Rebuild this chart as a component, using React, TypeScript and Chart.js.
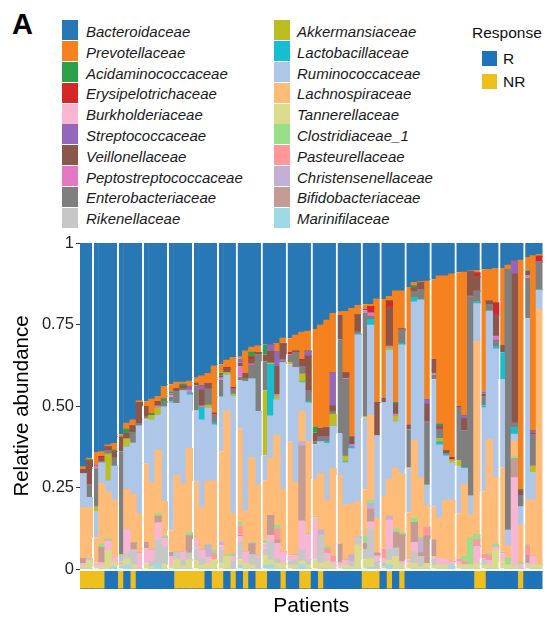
import React, { useEffect, useRef } from 'react';
import { Chart, registerables } from 'chart.js';

Chart.register(...registerables);

const FONT = "'Liberation Sans', Arial, Helvetica, sans-serif";

// ---------- categories ----------
const patients = [
  'P1','P2','P3','P4','P5','P6','P7','P8','P9','P10',
  'P11','P12','P13','P14','P15','P16','P17','P18','P19','P20',
  'P21','P22','P23','P24','P25','P26','P27','P28','P29','P30',
  'P31','P32','P33','P34','P35','P36','P37','P38','P39','P40',
  'P41','P42','P43','P44','P45','P46','P47','P48','P49','P50',
  'P51','P52','P53','P54','P55','P56','P57','P58','P59','P60',
  'P61','P62','P63','P64','P65','P66','P67','P68','P69','P70',
  'P71','P72','P73','P74',
];

const response = [
  'NR','NR','NR','NR','R','R','NR','R','NR','R',
  'R','R','R','R','R','NR','NR','NR','NR','NR',
  'R','NR','NR','R','NR','R','NR','R','NR','NR',
  'R','R','NR','R','R','NR','NR','R','NR','R',
  'R','R','R','R','R','NR','NR','NR','R','NR',
  'R','NR','R','R','R','R','R','R','R','R',
  'R','R','R','NR','NR','R','R','R','R','R',
  'NR','R','R','R',
];

const yTickValues = [0, 0.25, 0.5, 0.75, 1];
const yTickLabels = ['0', '0.25', '0.50', '0.75', '1'];

// bars that show the thin white separator on their left edge
const separatorBefore = [2, 6, 10, 14, 18, 22, 25, 29, 33, 37, 41, 45, 48, 52, 56, 60, 64, 67, 71];

// ---------- series (relative abundance) ----------
const bacteroidaceae = [
  .686,.660,.641,.640,.620,.615,.587,.553,.543,.485,
  .486,.479,.471,.440,.434,.427,.427,.424,.413,.408,
  .400,.377,.373,.360,.351,.349,.331,.320,.316,.311,
  .312,.308,.292,.292,.283,.274,.271,.264,.252,.237,
  .216,.211,.210,.201,.192,.188,.189,.172,.172,.164,
  .147,.147,.135,.121,.119,.117,.112,.101,.101,.095,
  .090,.090,.086,.084,.081,.081,.078,.077,.068,.056,
  .053,.043,.039,.035,
];
const prevotellaceae = [
  .009,.005,.040,.015,.006,.021,.006,.018,.018,.004,
  .014,.044,.015,.038,.021,.020,.006,.017,.014,.030,
  .032,.145,.025,.022,.092,.006,.069,.015,.020,0,
  0,.025,.018,.042,.049,.083,.061,.298,.317,.330,
  .181,.010,.189,.395,.029,.013,.006,.317,.302,.012,
  .342,.117,.421,.010,.003,.364,.243,.455,.537,.563,
  .410,.441,.002,.008,.374,.098,.106,.236,.013,0,
  .703,.038,.538,.006,
];
const acidaminococcaceae = [
  0,.003,0,0,0,.004,0,.013,0,0,
  0,.006,0,.008,.007,0,.006,0,0,0,
  0,0,.008,0,0,0,0,.015,0,.031,
  0,0,0,0,0,0,0,.020,0,0,
  0,0,0,0,0,0,0,0,0,.003,
  .005,0,0,.008,0,0,0,.005,0,0,
  0,0,0,0,0,0,0,0,0,0,
  .005,.004,0,0,
];
const erysipelotrichaceae = [
  0,0,0,.004,0,0,0,0,0,0,
  0,0,0,0,0,0,0,0,0,0,
  0,.005,0,.004,.006,0,0,.009,0,0,
  0,0,0,.007,0,.006,0,0,0,0,
  0,0,0,0,0,0,.020,0,0,.018,
  0,.003,0,0,0,0,0,0,0,.008,
  0,0,0,.012,0,0,.038,0,0,0,
  0,0,0,.017,
];
const burkholderiaceae = [
  .008,0,.013,.010,.030,.015,0,.074,0,.048,
  .046,.036,.053,.026,.026,0,.026,0,.028,.026,
  .020,0,.015,0,.017,.017,.036,0,.008,.015,
  .020,.046,.036,.015,.015,.089,.079,.130,0,.026,
  .010,.012,.015,0,0,0,.021,.017,.010,.090,
  0,.010,.012,.028,0,0,.008,.020,.017,.013,
  .010,0,0,.053,0,.015,.010,.026,0,.268,
  .014,.010,.028,0,
];
const streptococcaceae = [
  0,0,.005,0,0,0,0,0,0,0,
  0,0,0,0,.006,0,0,.010,0,.013,
  0,0,0,0,0,.012,0,0,0,0,
  .021,.046,0,0,0,0,.015,0,0,0,
  .103,0,0,0,0,0,0,0,0,0,
  0,0,0,0,0,.014,0,.003,0,0,
  0,.008,0,0,.007,0,0,0,0,.039,
  0,0,.007,0,
];
const veillonellaceae = [
  .013,.074,0,.013,.012,.020,.046,.017,.020,.066,
  .031,0,.014,0,0,.009,.010,0,.010,.049,
  .017,0,.007,.012,0,.012,.017,.012,.007,.021,
  .036,.086,.049,0,.005,.017,.107,.028,.026,.028,
  .017,.074,.017,.022,.053,.005,0,.102,.015,.120,
  .031,0,.015,.010,.022,.054,.044,.010,.010,0,
  .003,.036,.075,.044,.010,.010,.064,.022,0,.458,
  .015,.013,.005,0,
];
const peptostreptococcaceae = [
  0,.003,.005,.003,0,0,0,0,0,0,
  0,0,.005,0,.004,0,0,.010,0,.005,
  0,0,.006,0,0,.031,0,.003,0,0,
  0,.006,.003,0,0,0,0,0,0,0,
  0,0,.003,.006,0,.007,.010,0,0,.004,
  .006,0,0,0,0,.002,.004,0,0,0,
  0,.002,.002,0,0,0,.012,0,0,0,
  0,.008,0,0,
];
const enterobacteriaceae = [
  0,.036,.118,0,.009,.025,.316,0,.033,.006,
  .006,0,0,.017,.014,.036,.004,0,.077,0,
  .049,.026,.051,0,.015,.010,.008,.043,.174,.089,
  0,0,.005,.024,.045,.022,.033,.007,.015,.015,
  .008,.289,.235,0,.006,.318,.010,0,0,0,
  0,.041,.118,.019,.031,.192,.015,.026,0,0,
  .164,.112,.611,.033,.026,.020,.020,0,.800,.014,
  .033,.125,.095,.087,
];
const rikenellaceae = [
  0,.006,0,0,0,0,0,.015,.046,0,
  0,.015,.072,.053,0,.022,.018,.020,.039,.020,
  0,0,.041,0,.022,.053,0,.031,.033,.020,
  .056,.015,0,.015,.015,.034,.015,0,.087,0,
  0,0,0,.015,.024,.031,.092,.023,.015,.033,
  .026,0,0,.036,.031,0,.022,0,0,0,
  0,0,0,0,.020,0,0,0,0,0,
  0,0,0,0,
];
const akkermansiaceae = [
  0,0,.013,0,.082,0,.004,.025,0,0,
  .004,.014,.024,0,0,0,0,0,0,0,
  .008,0,0,.007,.006,0,0,0,0,.199,
  .004,.010,0,.007,0,.024,0,0,0,0,
  .037,0,.017,0,0,.004,0,0,0,.008,
  .017,0,.002,0,0,0,0,.010,0,.008,
  .017,0,0,0,0,0,0,0,0,0,
  0,0,.020,0,
];
const lactobacillaceae = [
  0,0,0,0,0,0,0,0,0,0,
  0,0,0,0,.004,0,0,.005,0,.038,
  0,.005,.004,0,0,0,0,0,0,0,
  .158,0,0,0,0,.003,.004,0,0,.005,
  0,0,.003,.007,.002,0,.017,0,0,0,
  0,.005,0,.013,0,0,0,.010,.005,0,
  0,.003,0,.005,.007,0,.007,.082,0,.020,
  0,0,0,0,
];
const ruminococcaceae = [
  .104,.030,.081,.063,.034,.104,.019,.130,.157,.270,
  .136,.194,.107,.291,.391,.220,.287,.164,.217,.269,
  .225,.172,.165,.110,.360,.148,.399,.241,.225,.077,
  .129,.109,.388,.238,.351,.087,.119,.107,.097,.174,
  .130,.128,.130,.169,.511,.221,.276,.254,.287,.396,
  .143,.396,.136,.424,.545,.064,.390,.223,.136,.115,
  .146,.048,.058,.116,.257,.394,.394,.271,.048,.021,
  .056,.554,.084,.059,
];
const lachnospiraceae = [
  .156,.158,.077,.186,.145,.176,.012,.123,.149,.121,
  .240,.205,.194,.105,.066,.235,.207,.259,.177,.130,
  .193,.212,.276,.442,.123,.288,.123,.261,.217,.182,
  .176,.276,.192,.348,.225,.094,.281,.113,.174,.143,
  .269,.210,.169,.158,.109,.143,.261,.107,.161,.113,
  .187,.180,.144,.240,.183,.065,.101,.125,.182,.189,
  .138,.221,.070,.592,.191,.350,.205,.259,.037,.048,
  .116,.138,.172,.784,
];
const tannerellaceae = [
  .009,.025,.007,.009,.056,.013,0,.020,.012,0,
  .017,.007,0,.015,.012,.028,.009,.028,.025,.012,
  .017,.028,.017,.038,0,.018,.017,.012,0,.031,
  .015,.017,.017,.012,.012,.012,.012,.028,.017,.022,
  .012,.007,.012,.007,.074,.025,.026,0,.007,.015,
  .038,.012,.017,.017,.007,.017,.010,.012,.012,0,
  .012,.012,.012,.017,.012,.012,.058,.020,.012,.012,
  0,.007,.012,.012,
];
const clostridiaceae1 = [
  0,0,0,.010,.006,0,0,0,0,0,
  0,0,.008,.007,0,.003,0,.009,0,0,
  .005,.010,0,.005,.008,.010,0,.004,0,.012,
  0,.012,0,0,0,0,.003,.005,0,.005,
  0,0,0,0,0,.020,.010,0,0,0,
  .010,.007,0,.012,.006,0,0,0,0,0,
  0,.017,.084,.016,0,.005,.008,0,.022,.005,
  .005,.003,0,0,
];
const pasteurellaceae = [
  0,0,0,0,0,0,0,0,0,0,
  0,0,0,0,0,0,0,0,0,0,
  0,.020,0,0,0,.028,0,0,0,0,
  0,.034,0,0,0,0,0,0,0,.015,
  .017,0,0,0,0,0,0,0,.031,0,
  0,0,0,0,0,.027,0,0,0,0,
  .010,.010,0,.020,.015,.015,0,0,0,0,
  0,.031,0,0,
];
const christensenellaceae = [
  0,0,0,0,0,0,0,0,0,0,
  0,0,0,0,0,0,0,0,0,0,
  .034,0,.012,0,0,0,0,0,0,0,
  0,0,0,0,0,.013,0,0,.015,0,
  0,0,0,.020,0,0,.018,0,0,.012,
  0,0,0,0,.041,0,0,0,0,0,
  0,0,0,0,0,0,0,.005,0,0,
  0,0,0,0,
];
const bifidobacteriaceae = [
  .015,0,0,.047,0,0,0,0,.022,0,
  .020,0,.020,0,.015,0,0,.054,0,0,
  0,0,0,0,0,.006,0,.034,0,0,
  .061,.010,0,0,0,.230,0,0,0,0,
  0,.059,0,0,0,.020,.039,.008,0,0,
  .048,.082,0,.062,.012,.084,.051,0,0,0,
  0,0,0,0,0,0,0,0,0,.059,
  0,.026,0,0,
];
const marinifilaceae = [
  0,0,0,0,0,.007,.010,.012,0,0,
  0,0,.017,0,0,0,0,0,0,0,
  0,0,0,0,0,.012,0,0,0,.012,
  .012,0,0,0,0,.012,0,0,0,0,
  0,0,0,0,0,.005,.005,0,0,.012,
  0,0,0,0,0,0,0,0,0,.009,
  0,0,0,0,0,0,0,.002,0,0,
  0,0,0,0,
];

// legend order (two columns of ten)
const families = [
  { name: 'Bacteroidaceae', color: '#2878b5', data: bacteroidaceae },
  { name: 'Prevotellaceae', color: '#f5821f', data: prevotellaceae },
  { name: 'Acidaminococcaceae', color: '#2ca048', data: acidaminococcaceae },
  { name: 'Erysipelotrichaceae', color: '#d62728', data: erysipelotrichaceae },
  { name: 'Burkholderiaceae', color: '#f7b6d2', data: burkholderiaceae },
  { name: 'Streptococcaceae', color: '#9467bd', data: streptococcaceae },
  { name: 'Veillonellaceae', color: '#8c564b', data: veillonellaceae },
  { name: 'Peptostreptococcaceae', color: '#e377c2', data: peptostreptococcaceae },
  { name: 'Enterobacteriaceae', color: '#7f7f7f', data: enterobacteriaceae },
  { name: 'Rikenellaceae', color: '#c7c7c7', data: rikenellaceae },
  { name: 'Akkermansiaceae', color: '#bcbd22', data: akkermansiaceae },
  { name: 'Lactobacillaceae', color: '#17becf', data: lactobacillaceae },
  { name: 'Ruminococcaceae', color: '#aec7e8', data: ruminococcaceae },
  { name: 'Lachnospiraceae', color: '#ffbb78', data: lachnospiraceae },
  { name: 'Tannerellaceae', color: '#dbdb8d', data: tannerellaceae },
  { name: 'Clostridiaceae_1', color: '#98df8a', data: clostridiaceae1 },
  { name: 'Pasteurellaceae', color: '#ff9896', data: pasteurellaceae },
  { name: 'Christensenellaceae', color: '#c5b0d5', data: christensenellaceae },
  { name: 'Bifidobacteriaceae', color: '#c49c94', data: bifidobacteriaceae },
  { name: 'Marinifilaceae', color: '#9edae5', data: marinifilaceae },
];

// stacking order, bottom to top
const stackOrder = [
  'Marinifilaceae', 'Tannerellaceae', 'Rikenellaceae', 'Burkholderiaceae',
  'Bifidobacteriaceae', 'Christensenellaceae', 'Pasteurellaceae', 'Clostridiaceae_1',
  'Lachnospiraceae', 'Ruminococcaceae', 'Lactobacillaceae', 'Akkermansiaceae',
  'Enterobacteriaceae', 'Peptostreptococcaceae', 'Veillonellaceae', 'Streptococcaceae',
  'Erysipelotrichaceae', 'Acidaminococcaceae', 'Prevotellaceae', 'Bacteroidaceae',
];

const responseGroups = [
  { name: 'R', color: '#1f73b8' },
  { name: 'NR', color: '#efbf1e' },
];

const ROW_H = 20.8;
const ROW0 = 20.4;

export default function App() {
  const canvasRef = useRef<HTMLCanvasElement | null>(null);

  useEffect(() => {
    const canvas = canvasRef.current;
    if (!canvas) return;

    const mainSets = stackOrder.map((name) => {
      const f = families.find((x) => x.name === name)!;
      return {
        label: f.name,
        data: f.data,
        backgroundColor: f.color,
        borderColor: '#ffffff',
        borderWidth: (ctx: any) =>
          separatorBefore.includes(ctx.dataIndex) ? { left: 2, right: 0, top: 0, bottom: 0 } : 0,
        borderSkipped: false,
        inflateAmount: 0.5,
        yAxisID: 'y',
        stack: 'main',
        barPercentage: 1,
        categoryPercentage: 1,
      };
    });

    const respSets = responseGroups.map((g) => ({
      label: g.name,
      data: response.map((r) => (r === g.name ? 1 : 0)),
      backgroundColor: g.color,
      borderWidth: 0,
      inflateAmount: 0.5,
      yAxisID: 'y2',
      stack: 'resp',
      grouped: false,
      barPercentage: 1,
      categoryPercentage: 1,
    }));

    const chart = new Chart(canvas, {
      type: 'bar',
      data: { labels: patients, datasets: [...mainSets, ...respSets] as any },
      options: {
        responsive: false,
        animation: false,
        devicePixelRatio: 1,
        events: [],
        layout: { padding: { left: 0, right: 4.5, top: 13, bottom: 0 } },
        plugins: { legend: { display: false }, tooltip: { enabled: false } },
        scales: {
          x: {
            stacked: true,
            grid: { display: false },
            border: { display: false },
            ticks: { display: false },
            title: {
              display: true,
              text: 'Patients',
              color: '#000',
              font: { family: FONT, size: 21, lineHeight: 1 },
              padding: { top: 0, bottom: 0 },
            },
            afterFit: (scale: any) => {
              scale.height = 28;
            },
          },
          y: {
            position: 'left',
            stack: 'left',
            stackWeight: 326,
            weight: 2,
            stacked: true,
            min: 0,
            max: 1,
            grid: {
              display: true,
              drawOnChartArea: false,
              drawTicks: true,
              tickLength: 4,
              color: '#333',
            },
            border: { display: false },
            ticks: {
              stepSize: 0.25,
              padding: 2,
              color: '#222',
              font: { family: FONT, size: 16.5 },
              callback: (value: any) => {
                const i = yTickValues.indexOf(Number(value));
                return i >= 0 ? yTickLabels[i] : '';
              },
            },
            title: {
              display: true,
              text: 'Relative abundance',
              color: '#000',
              font: { family: FONT, size: 20.5 },
              padding: { top: 10, bottom: 0 },
            },
            afterFit: (scale: any) => {
              scale.width = 80;
            },
          },
          y2: {
            position: 'left',
            stack: 'left',
            stackWeight: 20,
            weight: 1,
            stacked: true,
            display: false,
            min: 0,
            max: 1.15,
          },
        } as any,
      },
    });

    return () => chart.destroy();
  }, []);

  const legendCol = (items: typeof families, sqX: number, txtX: number) =>
    items.map((f, i) => {
      const top = ROW0 + i * ROW_H;
      return (
        <React.Fragment key={f.name}>
          <div
            style={{
              position: 'absolute',
              left: sqX,
              top,
              width: 16,
              height: 20,
              background: f.color,
            }}
          />
          <div
            style={{
              position: 'absolute',
              left: txtX,
              top: top + 1.5,
              height: 20,
              lineHeight: '20px',
              fontSize: 15,
              fontStyle: 'italic',
              color: '#1a1a1a',
              whiteSpace: 'nowrap',
            }}
          >
            {f.name}
          </div>
        </React.Fragment>
      );
    });

  return (
    <div
      style={{
        position: 'absolute',
        left: 0,
        top: 0,
        width: 547,
        height: 617,
        background: '#ffffff',
        fontFamily: FONT,
        overflow: 'hidden',
      }}
    >
      <div
        style={{
          position: 'absolute',
          left: 12,
          top: 7,
          fontSize: 29,
          lineHeight: '34px',
          fontWeight: 'bold',
          color: '#000',
        }}
      >
        A
      </div>

      {legendCol(families.slice(0, 10), 62, 86)}
      {legendCol(families.slice(10, 20), 274, 297)}

      <div
        style={{
          position: 'absolute',
          left: 472,
          top: 23,
          fontSize: 15.5,
          lineHeight: '20px',
          color: '#111',
          whiteSpace: 'nowrap',
        }}
      >
        Response
      </div>
      {responseGroups.map((g, i) => (
        <React.Fragment key={g.name}>
          <div
            style={{
              position: 'absolute',
              left: 482,
              top: 51 + i * 23,
              width: 15,
              height: 15,
              background: g.color,
            }}
          />
          <div
            style={{
              position: 'absolute',
              left: 503,
              top: 48.5 + i * 23,
              fontSize: 15.5,
              lineHeight: '20px',
              color: '#111',
              whiteSpace: 'nowrap',
            }}
          >
            {g.name}
          </div>
        </React.Fragment>
      ))}

      <canvas
        ref={canvasRef}
        width={547}
        height={387}
        style={{ position: 'absolute', left: 0, top: 230, width: 547, height: 387 }}
      />
    </div>
  );
}
